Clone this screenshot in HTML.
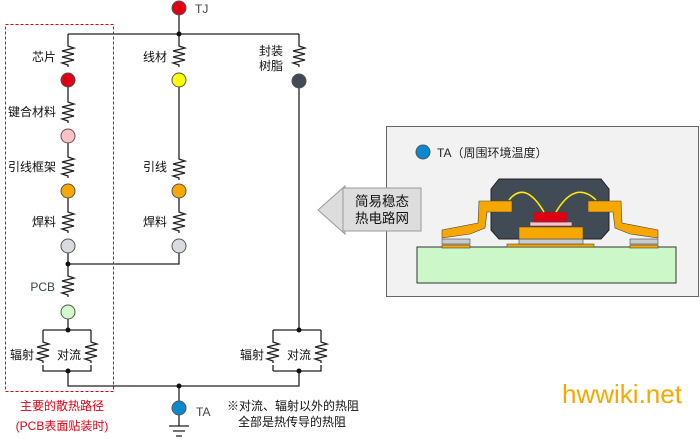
<!DOCTYPE html>
<html><head><meta charset="utf-8"><style>body{margin:0;background:#fff}svg{display:block}text{font-family:"Liberation Sans","Noto Sans CJK SC",sans-serif}</style></head><body>
<svg width="700" height="439" viewBox="0 0 700 439" xmlns="http://www.w3.org/2000/svg">
<defs>
<path id="r" d="M0,0 v4 l6,2 l-12,3 l12,3 l-12,3 l12,3 l-12,3 l6,2 v2" fill="none" stroke="#222" stroke-width="1.3"/>
</defs>
<g stroke="#222" stroke-width="1.3" fill="none">
<path d="M179,15 V34 M68,34 H299 M68,34 V42 M179,34 V42 M299,34 V42"/>
<path d="M68,87 V98 M68,143 V153 M68,198 V208 M68,253 V272 M68,264 H179 V253"/>
<path d="M179,87 V155 M179,198 V208 M299,88 V330"/>
<path d="M68,319 V330 M43,330 H91 M43,330 V338 M91,330 V338 M43,365 V371 H91 V365 M68,371 V386 H299 V371 M273,371 H321 V365 M273,365 V371 M273,330 H321 M273,330 V338 M321,330 V338"/>
<path d="M179,386 V401 M179,415 V426 M169,426 H189 M173,431 H185 M176,436 H182"/>
</g>
<g>
<use href="#r" x="68" y="42"/><use href="#r" x="68" y="98"/><use href="#r" x="68" y="153"/><use href="#r" x="68" y="208"/><use href="#r" x="68" y="272"/>
<use href="#r" x="179" y="42"/><use href="#r" x="179" y="155"/><use href="#r" x="179" y="208"/>
<use href="#r" x="299" y="42"/>
<use href="#r" x="43" y="338"/><use href="#r" x="91" y="338"/><use href="#r" x="273" y="338"/><use href="#r" x="321" y="338"/>
</g>
<g stroke="#555" stroke-width="1">
<circle cx="179" cy="8" r="7" fill="#e00014"/>
<circle cx="68" cy="80" r="7" fill="#e00014"/>
<circle cx="68" cy="136" r="7" fill="#ffc0c8"/>
<circle cx="68" cy="191" r="7" fill="#f7a800"/>
<circle cx="68" cy="246" r="7" fill="#d8dce0"/>
<circle cx="179" cy="80" r="7" fill="#ffff00"/>
<circle cx="179" cy="191" r="7" fill="#f7a800"/>
<circle cx="179" cy="246" r="7" fill="#d8dce0"/>
<circle cx="299" cy="81" r="7" fill="#414b55"/>
<circle cx="68" cy="312" r="7" fill="#d4f7cc"/>
<circle cx="179" cy="408" r="7" fill="#0a88d0"/>
</g>
<g fill="#111">
<circle cx="179" cy="34" r="2.5"/><circle cx="68" cy="264" r="2.5"/><circle cx="68" cy="330" r="2.5"/><circle cx="68" cy="371" r="2.5"/><circle cx="179" cy="386" r="2.5"/><circle cx="299" cy="330" r="2.5"/><circle cx="299" cy="371" r="2.5"/>
</g>
<rect x="5.5" y="24.5" width="108" height="367" fill="none" stroke="#e00014" stroke-dasharray="3,2"/>
<g font-size="12" fill="#111">
<text x="195" y="13" fill="#444">TJ</text>
<text x="56" y="61" text-anchor="end">芯片</text>
<text x="56" y="116" text-anchor="end">键合材料</text>
<text x="56" y="171" text-anchor="end">引线框架</text>
<text x="56" y="226" text-anchor="end">焊料</text>
<text x="167" y="61" text-anchor="end">线材</text>
<text x="167" y="171" text-anchor="end">引线</text>
<text x="167" y="226" text-anchor="end">焊料</text>
<text x="283" y="55" text-anchor="end">封装</text>
<text x="283" y="70" text-anchor="end">树脂</text>
<text x="55" y="291" text-anchor="end" fill="#3a4650">PCB</text>
<text x="10" y="359">辐射</text><text x="57" y="359">对流</text>
<text x="240" y="359">辐射</text><text x="287" y="359">对流</text>
<text x="196" y="416" fill="#444">TA</text>
<text x="227" y="410">※对流、辐射以外的热阻</text>
<text x="238" y="426">全部是热传导的热阻</text>
<text x="62" y="410" text-anchor="middle" fill="#e00014">主要的散热路径</text>
<text x="62" y="430" text-anchor="middle" fill="#e00014">(PCB表面贴装时)</text>
</g>
<rect x="386.5" y="126.5" width="312" height="170" fill="#f2f2f2" stroke="#666"/>
<circle cx="423" cy="152" r="7" fill="#0a88d0" stroke="#555"/>
<text x="437" y="157" font-size="12" fill="#222">TA（周围环境温度）</text>
<polygon points="318,210 345,186 345,234" fill="#ddd" stroke="#999"/>
<rect x="343" y="188" width="78" height="43" fill="#ddd" stroke="#999"/>
<text x="382" y="206" font-size="13.5" text-anchor="middle" fill="#111">简易稳态</text>
<text x="382" y="223" font-size="13.5" text-anchor="middle" fill="#111">热电路网</text>
<rect x="417" y="247" width="259" height="36" fill="#ccf7c8" stroke="#333"/>
<polygon points="499,179 601,179 609,189 609,230 601,239 499,239 491,230 491,189" fill="#414b55" stroke="#222"/>
<rect x="507" y="244" width="87" height="3" fill="#f7a800" stroke="#444" stroke-width=".6"/>
<rect x="519" y="239" width="64" height="5" fill="#c8ccd0" stroke="#444" stroke-width=".6"/>
<rect x="519" y="227" width="64" height="12" fill="#f7a800" stroke="#444" stroke-width=".6"/>
<rect x="530" y="222" width="42" height="4" fill="#ffc0c8" stroke="#444" stroke-width=".6"/>
<rect x="534" y="212" width="33" height="10" fill="#e00014" stroke="#444" stroke-width=".6"/>
<path d="M509,200 Q525,180 544,212 M556,212 Q575,180 596,200" fill="none" stroke="#ffee00" stroke-width="1.5"/>
<g fill="#f7a800" stroke="#444" stroke-width=".6">
<polygon points="479,201 512,201 512,212 487,212 485,228 470,234 442,238 442,230 478,223"/>
<polygon points="621,201 588,201 588,212 613,212 615,228 630,234 658,238 658,230 622,223"/>
<rect x="442" y="245" width="28" height="3"/><rect x="630" y="245" width="28" height="3"/>
</g>
<rect x="442" y="239" width="28" height="5" fill="#c8ccd0" stroke="#444" stroke-width=".6"/>
<rect x="630" y="239" width="28" height="5" fill="#c8ccd0" stroke="#444" stroke-width=".6"/>
<text x="562" y="403" font-size="26" fill="#f7a800">hwwiki.net</text>
</svg>
</body></html>
